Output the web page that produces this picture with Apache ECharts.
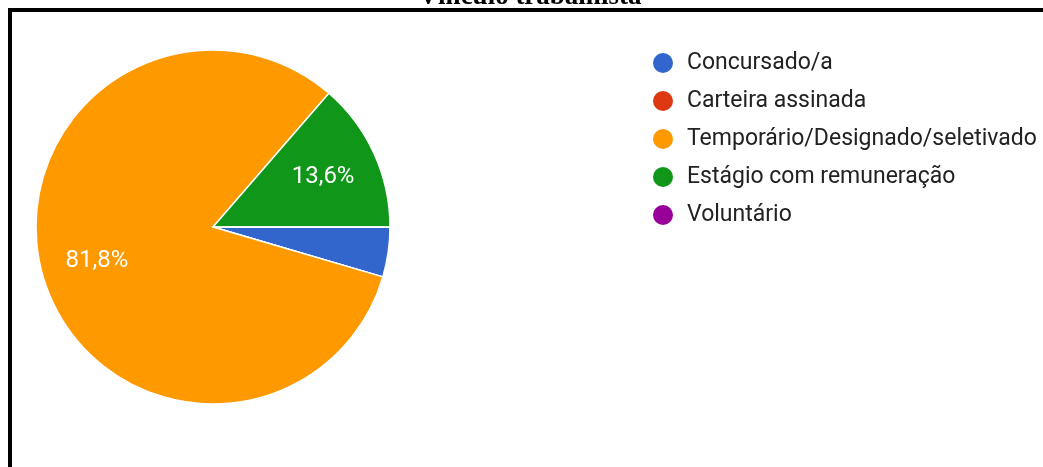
<!DOCTYPE html>
<html>
<head>
<meta charset="utf-8">
<style>
  html, body { margin: 0; padding: 0; background: #ffffff; }
  #chart { width: 1043px; height: 467px; }
</style>
<script src="https://cdn.jsdelivr.net/npm/echarts@6/dist/echarts.min.js"></script>
</head>
<body>
<div id="chart"></div>
<script>
// Employment-relationship responses (counts per category)
const categories = [
  'Concursado/a',
  'Carteira assinada',
  'Temporário/Designado/seletivado',
  'Estágio com remuneração',
  'Voluntário'
];
const counts = [1, 0, 18, 3, 0];
const colors = ['#3366cc', '#dc3912', '#ff9900', '#109618', '#990099'];
const titleText = 'Vínculo trabalhista';

const sliceData = categories.map((name, i) => ({
  name: name,
  value: counts[i],
  itemStyle: { color: colors[i] }
}));

const fontFamily = 'Roboto, Arial, sans-serif';
const chart = echarts.init(document.getElementById('chart'), null, { renderer: 'canvas' });

// Percent labels sit at two thirds of the radius; slices under 5% stay unlabeled
const total = counts.reduce((a, b) => a + b, 0);
const labelData = categories.map((name, i) => ({
  name: name,
  value: counts[i],
  itemStyle: { color: 'rgba(0,0,0,0)', borderWidth: 0 },
  label: { show: counts[i] / total >= 0.05 }
}));

chart.setOption({
  backgroundColor: '#ffffff',
  animation: false,
  graphic: [
    {
      type: 'rect',
      shape: { x: 10, y: 10, width: 1200, height: 600 },
      style: { fill: 'none', stroke: '#000000', lineWidth: 4 },
      z: 10
    },
    {
      type: 'text',
      x: 530,
      y: 11,
      style: {
        text: titleText,
        font: 'bold 27px "Liberation Serif", "Times New Roman", serif',
        fill: '#000000',
        align: 'center',
        verticalAlign: 'bottom'
      },
      z: 9
    }
  ],
  legend: {
    orient: 'vertical',
    left: 651,
    top: 51,
    padding: 0,
    icon: 'circle',
    itemWidth: 22,
    itemHeight: 22,
    itemGap: 14,
    selectedMode: false,
    textStyle: {
      color: '#222222',
      fontSize: 23,
      fontFamily: fontFamily,
      padding: [0, 0, 0, 8]
    },
    data: categories
  },
  series: [
    {
      type: 'pie',
      center: [213, 227],
      radius: [0, 177],
      startAngle: 0,
      clockwise: true,
      minAngle: 0,
      avoidLabelOverlap: false,
      silent: true,
      itemStyle: { borderColor: '#ffffff', borderWidth: 1.5 },
      label: { show: false },
      labelLine: { show: false },
      data: sliceData
    },
    {
      type: 'pie',
      center: [213, 227],
      radius: [0, 236],
      startAngle: 0,
      clockwise: true,
      silent: true,
      avoidLabelOverlap: false,
      legendHoverLink: false,
      label: {
        position: 'inside',
        color: '#ffffff',
        fontSize: 24,
        fontFamily: fontFamily,
        formatter: p => p.percent.toFixed(1).replace('.', ',') + '%'
      },
      labelLine: { show: false },
      data: labelData
    }
  ]
});
</script>
</body>
</html>
